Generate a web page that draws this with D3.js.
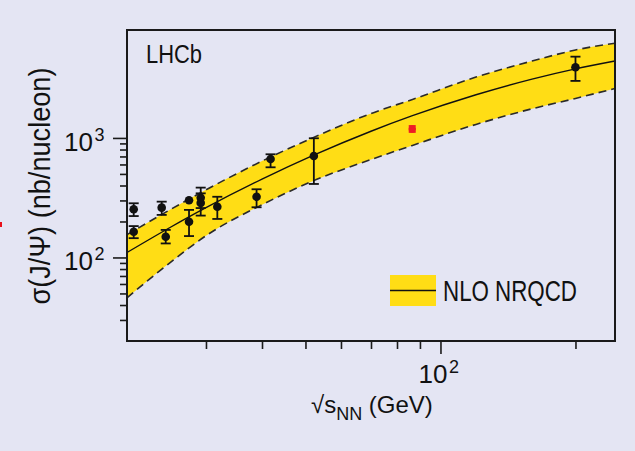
<!DOCTYPE html>
<html><head><meta charset="utf-8">
<script src="https://cdn.jsdelivr.net/npm/d3@7"></script>
<style>
body{margin:0;background:#e4e5f3}
text{font-family:"Liberation Sans","Arial",sans-serif;fill:#111}
</style>
</head><body><svg id="c" width="635" height="451"></svg>
<script>
// ---- data ----
const energies = [20.7, 20.7, 23.9, 24.4, 27.5, 27.5, 29.2, 29.2, 31.8, 38.9, 41.8, 52.2, 200];
const sigma    = [253, 164, 261, 149, 301, 199, 316, 286, 266, 322, 667, 707, 3900];
const errLow   = [222, 145, 227, 131, 301, 151, 259, 224, 210, 263, 568, 412, 3000];
const errHigh  = [284, 183, 293, 170, 301, 250, 384, 344, 322, 372, 730, 994, 4787];
const lhcbEnergy = [86.5];
const lhcbSigma  = [1188];
const lhcbLow    = [1122];
const lhcbHigh   = [1259];
const bandEnergy  = [20, 25, 30, 40, 52, 70, 86.6, 120, 160, 200, 245];
const bandCentral = [110, 179, 261, 452, 714, 1138, 1535, 2297, 3105, 3785, 4405];
const bandUpper   = [155, 252, 368, 640, 1006, 1600, 2100, 3230, 4400, 5445, 6200];
const bandLower   = [46, 91, 152, 276, 437, 660, 866, 1298, 1754, 2140, 2596];
const xMajorTicks = [100];
const xMinorTicks = [30, 40, 50, 60, 70, 80, 90, 200];
const yMajorTicks = [100, 1000];
const yMinorTicks = [30, 40, 50, 60, 70, 80, 90, 200, 300, 400, 500, 600, 700, 800, 900];
const xTickBase = ["10"], xTickExp = ["2"];
const yTickBase = ["10", "10"], yTickExp = ["2", "3"];

// ---- chart ----
const svg = d3.select("#c");
svg.append("rect").attr("width",635).attr("height",451).attr("fill","#e4e5f3");
const L=127, R=615, T=30, B=341;
const x = d3.scaleLog().domain([20,245]).range([L,R]);
const y = d3.scaleLog().domain([20,8000]).range([B,T]);

// small red artefact at the left edge
svg.append("rect").attr("x",0).attr("y",222).attr("width",2).attr("height",5).attr("fill","#e8101a");

const plot = svg.append("g");
svg.append("clipPath").attr("id","pc").append("rect")
  .attr("x",L).attr("y",T).attr("width",R-L).attr("height",B-T);
const band = bandEnergy.map((e,i)=>({e, c:bandCentral[i], u:bandUpper[i], l:bandLower[i]}));
const cg = plot.append("g").attr("clip-path","url(#pc)");
cg.append("path").datum(band)
  .attr("d", d3.area().curve(d3.curveMonotoneX).x(d=>x(d.e)).y0(d=>y(d.l)).y1(d=>y(d.u)))
  .attr("fill","#ffdd15");
["u","l"].forEach(k=>{
  cg.append("path").datum(band)
    .attr("d", d3.line().curve(d3.curveMonotoneX).x(d=>x(d.e)).y(d=>y(d[k])))
    .attr("fill","none").attr("stroke","#2a2a2a").attr("stroke-width",1.6).attr("stroke-dasharray","8,5");
});
cg.append("path").datum(band)
  .attr("d", d3.line().curve(d3.curveMonotoneX).x(d=>x(d.e)).y(d=>y(d.c)))
  .attr("fill","none").attr("stroke","#111").attr("stroke-width",1.4);

// data points
function drawPoint(g, e, s, lo, hi, col, r, cap){
  const px=x(e);
  if (hi>lo){
    g.append("line").attr("x1",px).attr("x2",px).attr("y1",y(lo)).attr("y2",y(hi)).attr("stroke",col).attr("stroke-width",1.8);
    [lo,hi].forEach(v=>g.append("line").attr("x1",px-cap).attr("x2",px+cap).attr("y1",y(v)).attr("y2",y(v)).attr("stroke",col).attr("stroke-width",1.8));
  }
  g.append("circle").attr("cx",px).attr("cy",y(s)).attr("r",r).attr("fill",col);
}
const pg = plot.append("g");
energies.forEach((e,i)=>drawPoint(pg,e,sigma[i],errLow[i],errHigh[i],"#111",4.3,5));
lhcbEnergy.forEach((e,i)=>drawPoint(pg,e,lhcbSigma[i],lhcbLow[i],lhcbHigh[i],"#ee1c25",3.8,3.5));

// frame
svg.append("rect").attr("x",L).attr("y",T).attr("width",R-L).attr("height",B-T)
  .attr("fill","none").attr("stroke","#1a1a1a").attr("stroke-width",2);

// axes ticks
function ticks(axis, vals, size, tr){
  const g = svg.append("g").attr("transform",tr).call(axis.tickValues(vals).tickSize(size).tickFormat(""));
  g.select(".domain").remove();
  g.selectAll("line").attr("stroke","#1a1a1a").attr("stroke-width",1.6);
}
ticks(d3.axisBottom(x), xMinorTicks, 8, `translate(0,${B})`);
ticks(d3.axisBottom(x), xMajorTicks, 13, `translate(0,${B})`);
ticks(d3.axisLeft(y), yMinorTicks, 7, `translate(${L},0)`);
ticks(d3.axisLeft(y), yMajorTicks, 14, `translate(${L},0)`);

// tick labels: base and exponent as neighbouring texts
function powLabel(base, exp, baseEnd, py){
  svg.append("text").attr("x",baseEnd).attr("y",py).attr("text-anchor","end").attr("font-size",26).text(base);
  svg.append("text").attr("x",baseEnd+1.5).attr("y",py-10).attr("font-size",18).text(exp);
}
xMajorTicks.forEach((v,i)=>powLabel(xTickBase[i], xTickExp[i], x(v)+7, 383));
yMajorTicks.forEach((v,i)=>powLabel(yTickBase[i], yTickExp[i], 93, y(v)+13));

// axis titles
const xt = svg.append("text").attr("x",311).attr("y",413).attr("font-size",24);
xt.append("tspan").text("\u221As");
xt.append("tspan").attr("font-size",18).attr("dy",7).text("NN");
xt.append("tspan").attr("dy",-7).text(" (GeV)");
svg.append("text").attr("transform","translate(50,186) rotate(-90)")
  .attr("text-anchor","middle").attr("font-size",30)
  .attr("textLength",237).attr("lengthAdjust","spacingAndGlyphs")
  .text("\u03C3(J/\u03A8) (nb/nucleon)");

// LHCb label
svg.append("text").attr("x",146).attr("y",63).attr("font-size",26)
  .attr("textLength",56).attr("lengthAdjust","spacingAndGlyphs").text("LHCb");

// legend
svg.append("rect").attr("x",390).attr("y",275).attr("width",46).attr("height",31).attr("fill","#ffdd15");
svg.append("line").attr("x1",390).attr("x2",436).attr("y1",290.5).attr("y2",290.5).attr("stroke","#111").attr("stroke-width",1.5);
svg.append("text").attr("x",443).attr("y",301).attr("font-size",29)
  .attr("textLength",134).attr("lengthAdjust","spacingAndGlyphs").text("NLO NRQCD");
</script>
</body></html>
